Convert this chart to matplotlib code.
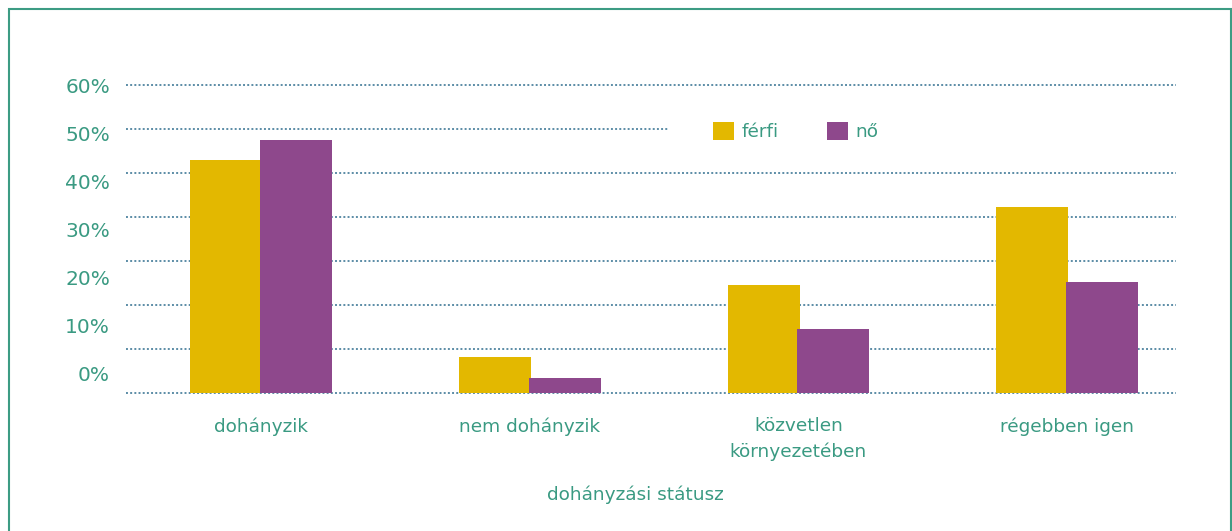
import numpy as np
import matplotlib
matplotlib.use("Agg")
import matplotlib.pyplot as plt
from matplotlib.patches import Rectangle

categories = ["dohányzik", "nem dohányzik", "közvetlen\nkörnyezetében", "régebben igen"]
ferfi = [45.4, 7.1, 21.1, 36.2]
no = [49.2, 3.0, 12.5, 21.6]
series_names = ["férfi", "nő"]
ytick_labels = ["0%", "10%", "20%", "30%", "40%", "50%", "60%"]
xlabel = "dohányzási státusz"

TEXT = "#3a9a82"
GRID = "#5b8ca6"
C_F = "#e3b800"
C_N = "#8e488c"

W, H = 1232, 531
fig = plt.figure(figsize=(W / 100, H / 100), dpi=100)
plt.rcParams['font.family'] = ['DejaVu Sans']

# axes placement (pixels)
ax_left, ax_right = 126, 1176
ax_top, ax_bot = 83.2, 394.8
ax = fig.add_axes([ax_left / W, 1 - ax_bot / H, (ax_right - ax_left) / W, (ax_bot - ax_top) / H])

x = np.arange(len(categories))
bw = 0.268
off = 0.130
ax.bar(x - off, ferfi, bw, color=C_F, label=series_names[0], zorder=2)
ax.bar(x + off, no, bw, color=C_N, label=series_names[1], zorder=2)

ax.set_xlim(-0.5024, 3.405)
ax.set_ylim(-0.3, 60.3)

# gridlines (8 lines from 0 to 60)
ax.set_yticks(np.arange(8) * 60 / 7)
ax.set_yticklabels([])
ax.yaxis.grid(True, color=GRID, linewidth=1.4, linestyle=(0, (1, 1.15)), zorder=0.5)
ax.set_axisbelow(True)

# tick labels placed at their own (offset) positions as in the reference
px_per_unit = (393.3 - 84.7) / 60
lab_pix = [373.3 - 47.9 * k for k in range(7)]
lab_pos = [(393.3 - p) / px_per_unit for p in lab_pix]
ax.set_yticks(lab_pos, minor=True)
ax.set_yticklabels(ytick_labels, minor=True)
ax.tick_params(axis='y', which='both', length=0)
ax.tick_params(axis='y', which='minor', pad=11.5, labelsize=14.5, labelcolor=TEXT)

ax.set_xticks(x)
ax.set_xticklabels(categories, fontsize=13.3, color=TEXT, linespacing=1.5)
ax.tick_params(axis='x', length=0, pad=16)

ax.set_xlabel(xlabel, fontsize=13.3, color=TEXT)
ax.xaxis.set_label_coords((635 - ax_left) / (ax_right - ax_left), -0.292)

for s in ax.spines.values():
    s.set_visible(False)

# white background behind legend that breaks the 50% gridline
ax.add_patch(Rectangle(((668 - ax_left) / (ax_right - ax_left), (ax_bot - 140) / (ax_bot - ax_top)),
                       0.6, 22 / (ax_bot - ax_top), transform=ax.transAxes,
                       facecolor="white", edgecolor="none", zorder=1, clip_on=False))

leg = fig.legend(loc='center left', bbox_to_anchor=(713 / W, 1 - 131.5 / H),
                 ncol=2, frameon=False, borderpad=0, borderaxespad=0,
                 handlelength=1.12, handleheight=1.12, handletextpad=0.43,
                 columnspacing=2.62, prop={'size': 13.3})
for t in leg.get_texts():
    t.set_color(TEXT)

# outer frame
fig.patches.append(Rectangle((9 / W, -0.05), (1231 - 9) / W, 1.05 - 9 / H,
                             transform=fig.transFigure, facecolor="none",
                             edgecolor="#3d9c84", linewidth=1.5))

fig.savefig("out.png", dpi=100, facecolor="white")
